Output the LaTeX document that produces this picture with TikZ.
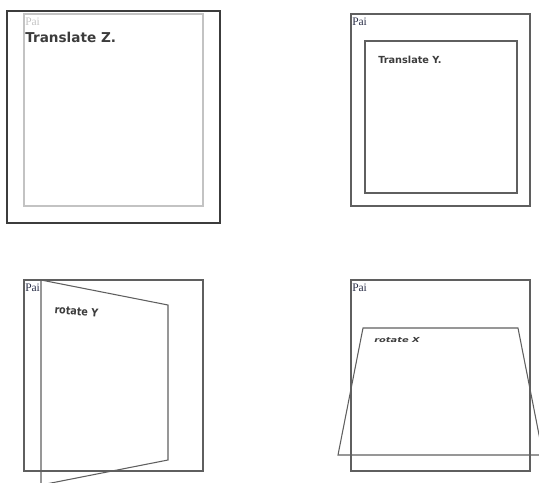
\documentclass[tikz,border=0pt]{standalone}
\usepackage{fontspec}
\setmainfont{Liberation Serif}
\newfontfamily\labelfont{DejaVu Sans}
\usepackage{xcolor}
\usetikzlibrary{positioning}
\definecolor{FrameGray}{RGB}{60,60,60}
\definecolor{EdgeGray}{RGB}{95,95,95}
\definecolor{PaleGray}{RGB}{195,195,195}
\definecolor{PaiBlue}{RGB}{40,45,70}

\begin{document}
\begin{tikzpicture}[
  x=0.75pt, y=-0.75pt,
  frame/.style={draw=EdgeGray, line width=0.8pt},
  heavyframe/.style={draw=FrameGray, line width=1.4pt},
  paleframe/.style={draw=PaleGray, line width=0.9pt},
  pai/.style={font=\fontsize{8.6}{10}\selectfont, text=PaiBlue,
              inner sep=0pt, anchor=base west},
  tag/.style={font=\labelfont\bfseries, text=FrameGray,
              inner sep=0pt, anchor=base west},
]
\useasboundingbox (0,0) rectangle (539,482);

% Translate Z panel
\draw[heavyframe] (7,11) rectangle (220,223);
\draw[paleframe] (24,14) rectangle (203,206);
\node[pai, text=PaleGray] (paiz) at (25,25) {Pai};
\node[tag, font=\labelfont\bfseries\fontsize{10.2}{12}\selectfont] (transz) at (25,42) {Translate Z.};

% Translate Y panel
\draw[frame] (351,14) rectangle (530,206);
\draw[frame] (365,41) rectangle (517,193);
\node[pai] (paiy) at (352,25) {Pai};
\node[tag, font=\labelfont\bfseries\fontsize{7.3}{9}\selectfont] (transy) at (378,63.5) {Translate Y.};

% rotate Y panel
\draw[frame] (24,280) rectangle (203,471);
\draw[frame] (41,280) -- (168,305) -- (168,460) -- (41,485) -- cycle;
\node[pai] (pairy) at (25,291) {Pai};
\node[tag, font=\labelfont\bfseries\fontsize{7.2}{9}\selectfont,
      rotate=-6, yscale=1.15] (roty) at (54,313) {rotate Y};

% rotate X panel
\draw[frame] (351,280) rectangle (530,471);
\draw[frame] (363,328) -- (518,328) -- (543,455) -- (338,455) -- cycle;
\node[pai] (pairx) at (352,291) {Pai};
\node[tag, font=\labelfont\bfseries\itshape\fontsize{7.4}{9}\selectfont,
      yscale=0.7] (rotx) at (374,342.5) {rotate X};

\end{tikzpicture}
\end{document}
